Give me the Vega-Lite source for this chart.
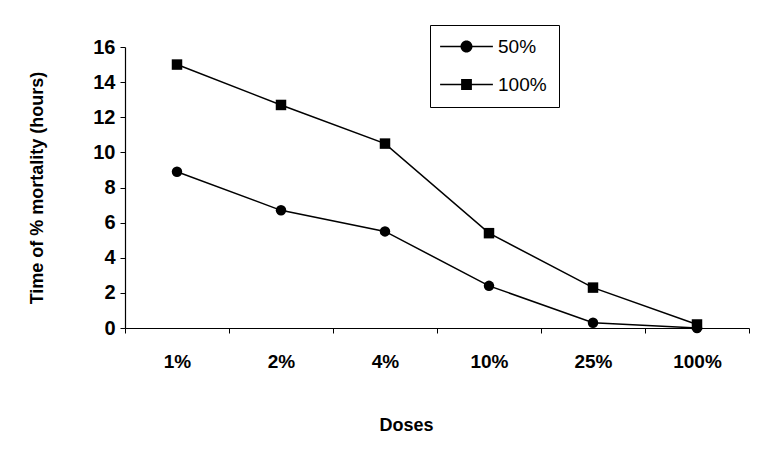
{
  "$schema": "https://vega.github.io/schema/vega-lite/v6.json",
  "width": 624,
  "height": 281,
  "autosize": {"type": "none"},
  "padding": {"left": 125, "top": 47, "right": 8, "bottom": 124},
  "background": "white",
  "config": {
    "view": {"stroke": null},
    "font": "Liberation Sans",
    "axis": {"grid": false, "domainColor": "black", "tickColor": "black", "labelColor": "black", "titleColor": "black", "domainWidth": 1.2, "tickWidth": 1}
  },
  "data": {
    "values": [
      {"dose": "1%", "series": "50%", "hours": 8.9},
      {"dose": "2%", "series": "50%", "hours": 6.7},
      {"dose": "4%", "series": "50%", "hours": 5.5},
      {"dose": "10%", "series": "50%", "hours": 2.4},
      {"dose": "25%", "series": "50%", "hours": 0.3},
      {"dose": "100%", "series": "50%", "hours": 0},
      {"dose": "1%", "series": "100%", "hours": 15},
      {"dose": "2%", "series": "100%", "hours": 12.7},
      {"dose": "4%", "series": "100%", "hours": 10.5},
      {"dose": "10%", "series": "100%", "hours": 5.4},
      {"dose": "25%", "series": "100%", "hours": 2.3},
      {"dose": "100%", "series": "100%", "hours": 0.2}
    ]
  },
  "encoding": {
    "x": {"field": "dose", "type": "ordinal", "sort": ["1%", "2%", "4%", "10%", "25%", "100%"],
      "scale": {"type": "band", "paddingInner": 0, "paddingOuter": 0},
      "axis": {"labelAngle": 0, "tickBand": "extent", "tickSize": 5, "labelFontSize": 19, "labelFontWeight": "bold", "labelPadding": 19,
        "title": "Doses", "titleFontSize": 18, "titleFontWeight": "bold", "titlePadding": 45, "titleX": 281}},
    "y": {"field": "hours", "type": "quantitative", "scale": {"domain": [0, 16], "nice": false},
      "axis": {"values": [0, 2, 4, 6, 8, 10, 12, 14, 16], "labelOverlap": false, "tickSize": 5, "labelFontSize": 20, "labelFontWeight": "bold", "labelPadding": 5,
        "title": "Time of % mortality (hours)", "titleFontSize": 18, "titleFontWeight": "bold", "titlePadding": 46}}
  },
  "layer": [
    {
      "mark": {"type": "line", "color": "black", "strokeWidth": 1.5},
      "encoding": {"detail": {"field": "series"}}
    },
    {
      "transform": [{"filter": "datum.series === '50%'"}],
      "mark": {"type": "point", "shape": "circle", "filled": true, "color": "black", "opacity": 1, "size": 110}
    },
    {
      "transform": [{"filter": "datum.series === '100%'"}],
      "mark": {"type": "point", "shape": "square", "filled": true, "color": "black", "opacity": 1, "size": 110}
    },
    {
      "mark": {"type": "point", "filled": true, "color": "black", "opacity": 0, "size": 144},
      "encoding": {
        "shape": {"field": "series", "scale": {"domain": ["50%", "100%"],
          "range": ["M-4.4,-0.11H4.4V0.11H-4.4Z M1,0A1,1 0 1,1 -1,0A1,1 0 1,1 1,0Z", "M-4.4,-0.11H4.4V0.11H-4.4Z M-0.9,-0.9H0.9V0.9H-0.9Z"]},
          "legend": {"orient": "none", "legendX": 305, "legendY": -22, "title": null, "strokeColor": "black", "padding": 12,
            "symbolSize": 144, "symbolOpacity": 1, "symbolFillColor": "black", "symbolStrokeWidth": 0,
            "labelFontSize": 19, "labelColor": "black", "labelOffset": 22, "rowPadding": 18, "symbolOffset": 15,
            "encode": {"symbols": {"update": {"fill": {"value": "black"}, "opacity": {"value": 1}}}}}}
      }
    }
  ]
}
